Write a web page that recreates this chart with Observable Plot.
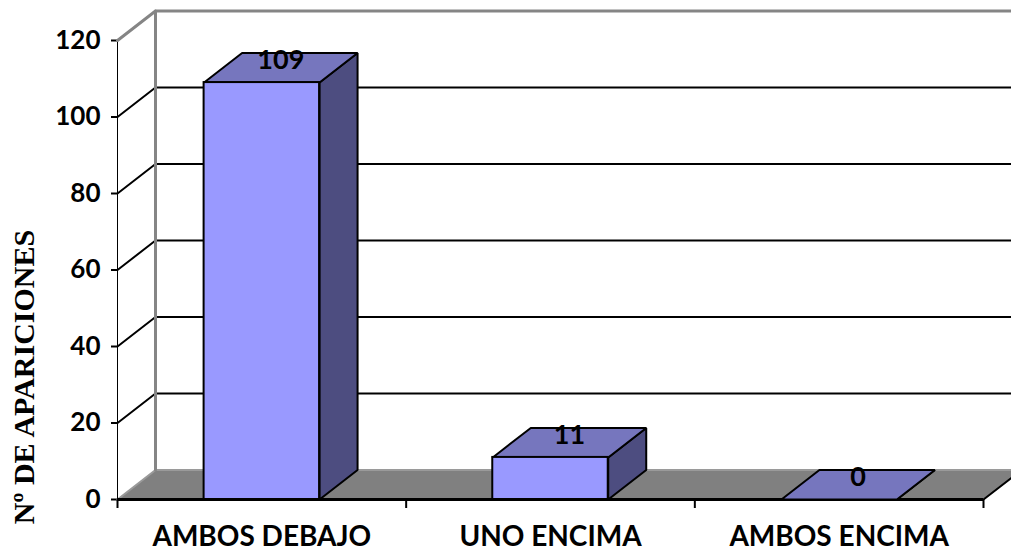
<!DOCTYPE html>
<html>
<head>
<meta charset="utf-8">
<script src="https://cdn.jsdelivr.net/npm/d3@7"></script>
<script src="https://cdn.jsdelivr.net/npm/@observablehq/plot@0.6"></script>
<style>
  html, body { margin: 0; padding: 0; background: #fff; overflow: hidden; }
  #chart svg g[aria-label="y-axis tick"] path,
  #chart svg g[aria-label="x-axis tick"] path,
  #chart svg g[aria-label="y-axis"] line,
  #chart svg g[aria-label="x-axis"] line { stroke-width: 2; }
</style>
</head>
<body>
<div id="chart"></div>
<script>
// Counts of appearances per position category
const categories = ["AMBOS DEBAJO", "UNO ENCIMA", "AMBOS ENCIMA"];
const values = [109, 11, 0];
const yTicks = [0, 20, 40, 60, 80, 100, 120];
const yTitle = "Nº DE APARICIONES";

// Frame geometry
const W = 1011, H = 553;
const mL = 117, mR = 28, mT = 40, mB = 54;
const xMax = categories.length;
const yMax = 120;

// Oblique depth of the 3D box, expressed in data units (38px right, 29.5px up)
const pxPerX = (W - mL - mR) / xMax;
const pxPerY = (H - mT - mB) / yMax;
const dX = 38 / pxPerX;
const dY = 29.5 / pxPerY;

// Bar geometry (each bar takes the middle 40% of its category band)
const bars = values.map((v, i) => ({i, v, a: i + 0.3, b: i + 0.7}));

const sidePts = bars.flatMap(d => [
  [d.b, 0], [d.b + dX, dY], [d.b + dX, d.v + dY], [d.b, d.v], [d.b, 0]
].map(([x, y]) => ({id: d.i, x, y})));

const topPts = bars.flatMap(d => [
  [d.a, d.v], [d.b, d.v], [d.b + dX, d.v + dY], [d.a + dX, d.v + dY], [d.a, d.v]
].map(([x, y]) => ({id: d.i, x, y})));

// Floor of the box
const floorPts = [[0, 0], [xMax, 0], [xMax + dX, dY], [dX, dY], [0, 0]].map(([x, y]) => ({x, y}));

// Gridlines: diagonal on the side wall plus horizontal on the back wall
const xFar = xMax + dX + 0.5;
const gridPts = yTicks.filter(t => t > 0 && t < yMax).flatMap(t => [
  [0, t], [dX, t + dY], [xFar, t + dY]
].map(([x, y]) => ({t, x, y})));
const topEdge = [[0, yMax], [dX, yMax + dY], [xFar, yMax + dY]].map(([x, y]) => ({x, y}));
const backEdge = [[dX, dY], [dX, yMax + dY]].map(([x, y]) => ({x, y}));
const floorBack = [[0, 0], [dX, dY], [xFar, dY]].map(([x, y]) => ({x, y}));
const floorRight = [[xMax, 0], [xMax + dX, dY]].map(([x, y]) => ({x, y}));

const chart = Plot.plot({
  width: W,
  height: H,
  marginLeft: mL,
  marginRight: mR,
  marginTop: mT,
  marginBottom: mB,
  style: {fontFamily: "Lato, sans-serif", fontSize: "26px", fontWeight: "bold", color: "black", background: "white"},
  x: {domain: [0, xMax], ticks: d3.range(0, xMax + 1), tickFormat: () => "", tickSize: 9, label: null, line: true},
  y: {domain: [0, yMax], ticks: yTicks, tickSize: 6, tickPadding: 11, tickFormat: d => String(d), label: null, line: true},
  marks: [
    // box walls and floor
    Plot.line(floorPts, {x: "x", y: "y", fill: "#808080", stroke: "none"}),
    Plot.line(floorBack, {x: "x", y: "y", stroke: "#9a9a9a", strokeWidth: 2, strokeLinejoin: "miter"}),
    Plot.line(gridPts, {x: "x", y: "y", z: "t", stroke: "black", strokeWidth: 2, strokeLinejoin: "miter"}),
    Plot.line(topEdge, {x: "x", y: "y", stroke: "#858585", strokeWidth: 3, strokeLinejoin: "miter"}),
    Plot.line(backEdge, {x: "x", y: "y", stroke: "#858585", strokeWidth: 3}),
    Plot.line(floorRight, {x: "x", y: "y", stroke: "black", strokeWidth: 2}),
    Plot.ruleY([0], {x1: 0, x2: xMax, stroke: "black", strokeWidth: 3}),

    // bars: side, top, front
    Plot.line(sidePts, {x: "x", y: "y", z: "id", fill: "#4D4D80", stroke: "black", strokeWidth: 2, strokeLinejoin: "miter"}),
    Plot.line(topPts, {x: "x", y: "y", z: "id", fill: "#7676BE", stroke: "black", strokeWidth: 2, strokeLinejoin: "miter"}),
    Plot.rect(bars, {x1: "a", x2: "b", y1: 0, y2: "v", fill: "#9999FF", stroke: "black", strokeWidth: 2}),

    // value labels
    Plot.text(bars, {x: d => (d.a + d.b) / 2 + dX / 2, y: d => d.v + dY / 2, dy: -7, text: d => String(d.v), fontSize: 27, fill: "black"}),

    // category labels
    Plot.text(categories, {x: (d, i) => i + 0.5, y: 0, dy: 38, text: d => d, fontSize: 28, fill: "black"}),

    // y title
    Plot.text([yTitle], {frameAnchor: "left", textAnchor: "middle", rotate: -90, dx: -93, dy: 107, text: d => d, fontFamily: "'Liberation Serif', 'DejaVu Serif', serif", fontSize: 30, fontWeight: "bold", fill: "black"})
  ]
});

document.getElementById("chart").appendChild(chart);
</script>
</body>
</html>
